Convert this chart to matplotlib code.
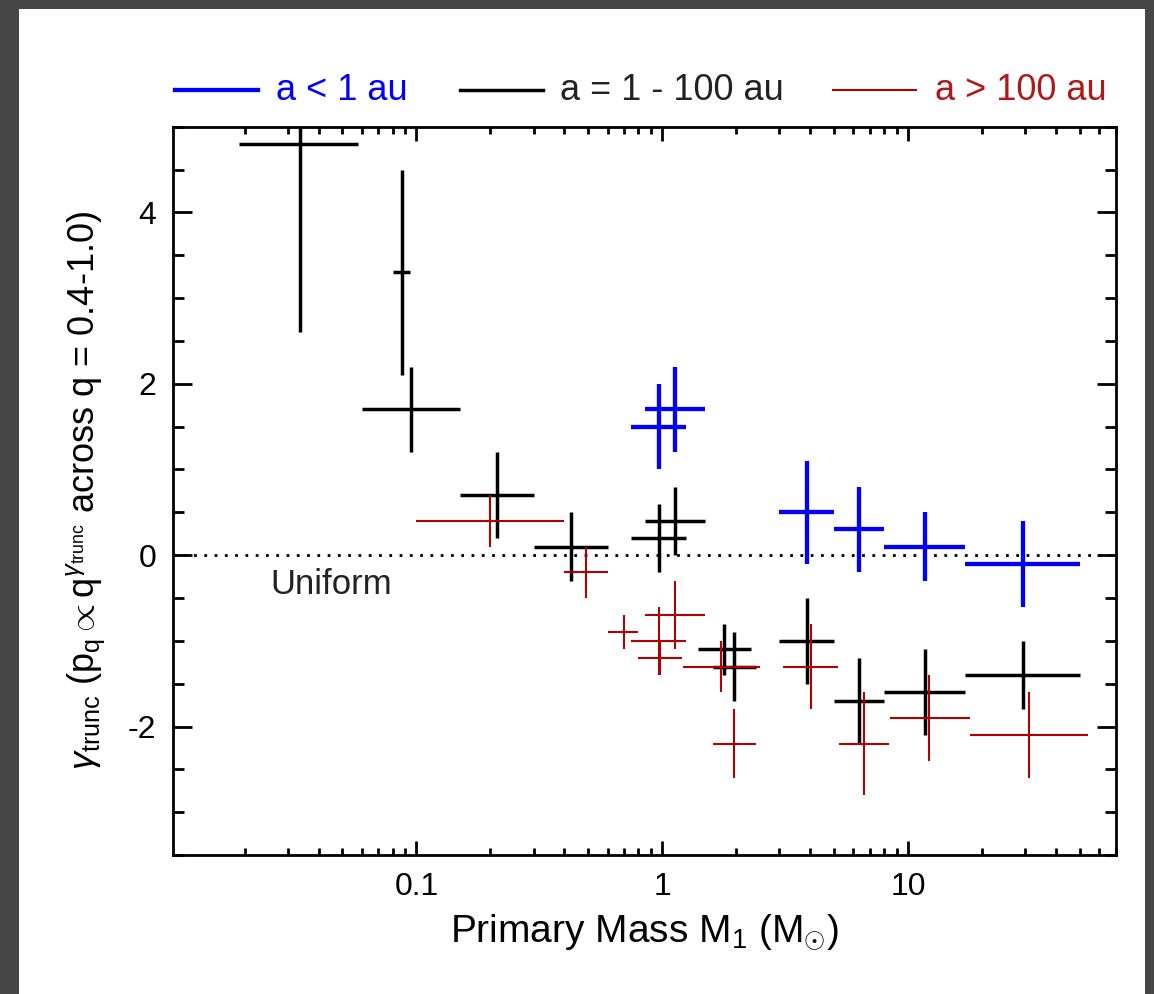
import numpy as np
import matplotlib
matplotlib.use("Agg")
import matplotlib.pyplot as plt
from matplotlib.lines import Line2D
from matplotlib.patches import Rectangle

# binned gamma_trunc values: centre, bin edges, value, error range
blk_m = np.array([0.0335, 0.0875, 0.095, 0.213, 0.425, 0.97, 1.13, 1.79, 1.96, 3.88, 6.34, 11.7, 29.3])
blk_mlo = np.array([0.019, 0.080, 0.060, 0.150, 0.300, 0.75, 0.853, 1.405, 1.61, 3.0, 5.0, 8.0, 17.0])
blk_mhi = np.array([0.058, 0.0944, 0.150, 0.300, 0.600, 1.25, 1.50, 2.30, 2.40, 5.0, 8.0, 17.0, 50.0])
blk_g = np.array([4.8, 3.3, 1.7, 0.7, 0.1, 0.2, 0.4, -1.1, -1.3, -1.0, -1.7, -1.6, -1.4])
blk_glo = np.array([2.6, 2.1, 1.2, 0.2, -0.3, -0.2, 0.0, -1.4, -1.7, -1.5, -2.2, -2.1, -1.8])
blk_ghi = np.array([7.0, 4.5, 2.2, 1.2, 0.5, 0.6, 0.8, -0.8, -0.9, -0.5, -1.2, -1.1, -1.0])

blu_m = np.array([0.97, 1.13, 3.88, 6.34, 11.7, 29.3])
blu_mlo = np.array([0.75, 0.853, 3.0, 5.0, 8.0, 17.0])
blu_mhi = np.array([1.25, 1.50, 5.0, 8.0, 17.0, 50.0])
blu_g = np.array([1.5, 1.7, 0.5, 0.3, 0.1, -0.1])
blu_glo = np.array([1.0, 1.2, -0.1, -0.2, -0.3, -0.6])
blu_ghi = np.array([2.0, 2.2, 1.1, 0.8, 0.5, 0.4])

red_m = np.array([0.20, 0.49, 0.70, 0.97, 0.98, 1.13, 1.74, 1.96, 4.03, 6.64, 12.2, 31.0])
red_mlo = np.array([0.10, 0.40, 0.60, 0.75, 0.80, 0.853, 1.21, 1.61, 3.11, 5.22, 8.44, 17.9])
red_mhi = np.array([0.40, 0.60, 0.80, 1.25, 1.20, 1.50, 2.50, 2.40, 5.20, 8.39, 17.8, 54.0])
red_g = np.array([0.4, -0.2, -0.9, -1.0, -1.2, -0.7, -1.3, -2.2, -1.3, -2.2, -1.9, -2.1])
red_glo = np.array([0.1, -0.5, -1.1, -1.4, -1.4, -1.1, -1.6, -2.6, -1.8, -2.8, -2.4, -2.6])
red_ghi = np.array([0.7, 0.1, -0.7, -0.6, -1.0, -0.3, -1.0, -1.8, -0.8, -1.6, -1.4, -1.6])

xticks = [0.1, 1, 10]
xticklabels = ["0.1", "1", "10"]
yticks = [-2, 0, 2, 4]

BLUE = "#0000ff"
BLACK = "#000000"
RED = "#b00000"

plt.rcParams["font.family"] = ["Liberation Sans", "DejaVu Sans"]
plt.rcParams["mathtext.fontset"] = "custom"
plt.rcParams["mathtext.rm"] = "Liberation Sans"
plt.rcParams["mathtext.it"] = "Liberation Sans:italic"
plt.rcParams["mathtext.cal"] = "Liberation Sans"
plt.rcParams["axes.unicode_minus"] = False

fig = plt.figure(figsize=(11.54, 9.94), dpi=100, facecolor="#464646")
fig.patches.append(Rectangle((19 / 1154, 0), (1145 - 19) / 1154, 1 - 9 / 994,
                             transform=fig.transFigure, facecolor="white",
                             edgecolor="none", zorder=-10))
ax = fig.add_axes([0.1497, 0.1398, 0.9668 - 0.1497, 0.8725 - 0.1398])
ax.set_facecolor("white")


def draw(m, mlo, mhi, g, glo, ghi, color, lw):
    ax.errorbar(m, g, xerr=[m - mlo, mhi - m], yerr=[g - glo, ghi - g],
                fmt="none", ecolor=color, elinewidth=lw, capsize=0)


draw(blk_m, blk_mlo, blk_mhi, blk_g, blk_glo, blk_ghi, BLACK, 2.5)
draw(red_m, red_mlo, red_mhi, red_g, red_glo, red_ghi, RED, 1.5)
draw(blu_m, blu_mlo, blu_mhi, blu_g, blu_glo, blu_ghi, BLUE, 3.1)

ax.axhline(0, color="black", lw=2.0, ls=(0, (1.0, 2.7)), zorder=1)
ax.text(0.0255, -0.34, "Uniform", fontsize=25, color="#222222", va="center")

ax.set_xscale("log")
ax.set_xlim(0.0102, 70)
ax.set_ylim(-3.5, 5.0)
ax.set_xticks(xticks)
ax.set_xticklabels(xticklabels)
ax.set_yticks(yticks)
ax.set_yticks(np.arange(-3.5, 5.01, 0.5), minor=True)
ax.tick_params(which="both", direction="in", top=True, right=True,
               labelsize=23, width=2, pad=12, colors="black")
ax.tick_params(axis="y", which="major", length=14)
ax.tick_params(axis="y", which="minor", length=8)
ax.tick_params(axis="x", which="major", length=10)
ax.tick_params(axis="x", which="minor", length=5)
for sp in ax.spines.values():
    sp.set_linewidth(2)

ax.set_xlabel(r"Primary Mass M$_{\rm 1}$ (M$_{\odot}$)", fontsize=28, labelpad=8)
ax.set_ylabel(r"$\gamma_{\rm trunc}$ (p$_{\rm q}$$\propto$q$^{\gamma_{\rm trunc}}$ across q = 0.4-1.0)",
              fontsize=26, labelpad=14)

# legend above the axes
leg = [("a < 1 au", BLUE, BLUE, 3.1, 175, 276),
       ("a = 1 - 100 au", BLACK, "#222222", 2.5, 460, 560),
       ("a > 100 au", RED, "#b01818", 1.5, 833, 935)]
for label, lc, tc, lw, x0, xt in leg:
    fig.add_artist(Line2D([x0 / 1154, (x0 + 83) / 1154], [1 - 90 / 994] * 2,
                          transform=fig.transFigure, color=lc, lw=lw))
    fig.text(xt / 1154, 1 - 90 / 994, label, color=tc, fontsize=26, va="center")

fig.savefig("out.png", dpi=100, facecolor=fig.get_facecolor())
